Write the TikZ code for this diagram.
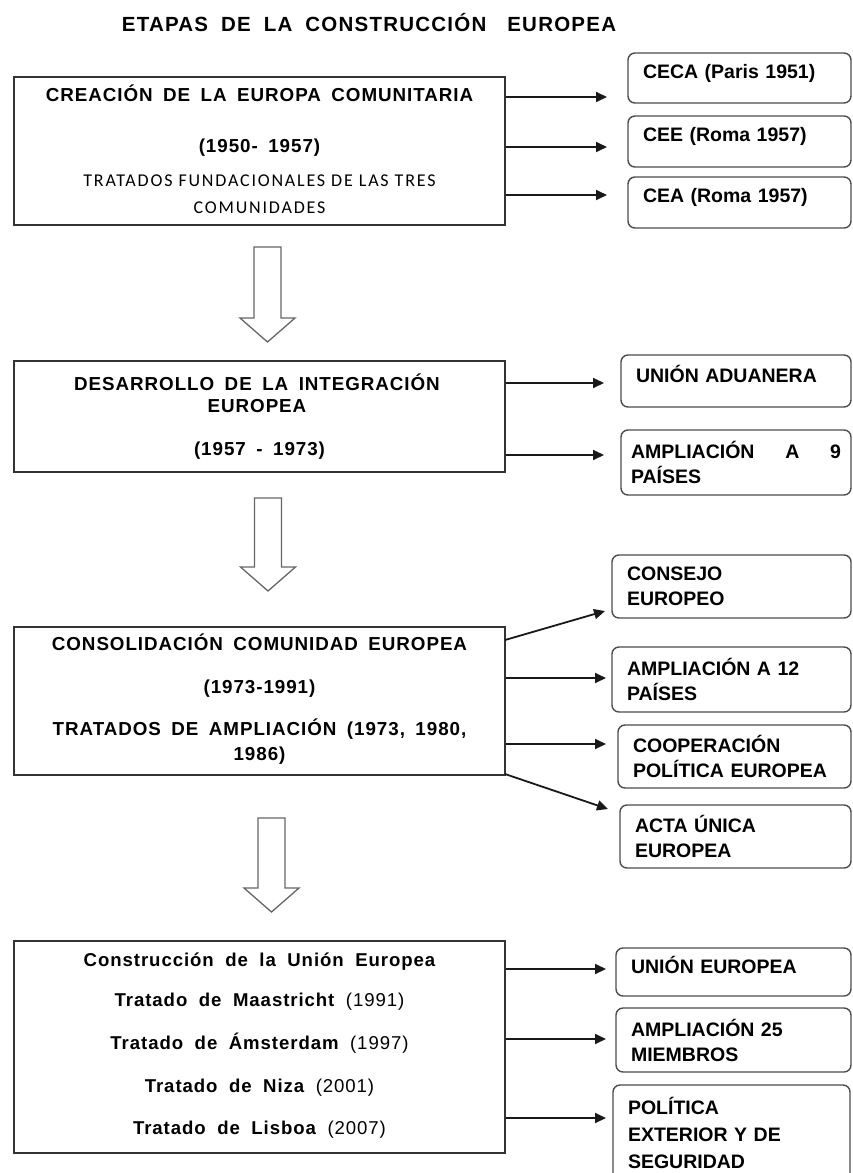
\documentclass[tikz,border=0pt]{standalone}
\usepackage{fontspec}
\setmainfont{Liberation Sans}
\newfontfamily\tfont[LetterSpace=6]{Liberation Sans}
\newfontfamily\hfont[LetterSpace=5]{Liberation Sans}
\newfontfamily\sfont[LetterSpace=10]{Carlito}
\usetikzlibrary{arrows.meta}
\newcommand\blkarrow[4]{% center x, top y, head base y, tip y
  \draw[blockarr] (#1-13.5,#2) -- (#1+13.5,#2) -- (#1+13.5,#3) -- (#1+27.5,#3)
    -- (#1,#4) -- (#1-27.5,#3) -- (#1-13.5,#3) -- cycle;}
\tikzset{
  mainbox/.style={draw=black!80, line width=1.8pt, minimum width=491pt, inner sep=0pt},
  mline/.style={anchor=base, inner sep=0pt,
    font=\hfont\bfseries\fontsize{18.8}{22}\selectfont,
    execute at begin node={\spaceskip=10.5pt\relax}},
  lline/.style={anchor=base, inner sep=0pt,
    font=\hfont\bfseries\fontsize{18.6}{22}\selectfont,
    execute at begin node={\spaceskip=11.5pt\relax}},
  smline/.style={anchor=base, inner sep=0pt,
    font=\sfont\fontsize{18}{21}\selectfont,
    execute at begin node={\spaceskip=6pt\relax}},
  sidebox/.style={draw=black!70, line width=1.4pt, rounded corners=7pt,
    inner xsep=15pt, inner ysep=0pt, align=left,
    font=\bfseries\fontsize{19.5}{25}\selectfont},
  oneline/.style={text depth=14pt},
  conn/.style={-{Triangle[length=11pt,width=10pt]}, line width=1.8pt, draw=black!90},
  blockarr/.style={draw=black!60, line width=1.3pt, fill=white, line join=miter},
}
\begin{document}
\begin{tikzpicture}[x=1pt,y=-1pt]
\clip (0,0) rectangle (853,1173);

% title
\node[anchor=base, inner sep=0pt,
  font=\tfont\bfseries\fontsize{20.5}{24}\selectfont,
  execute at begin node={\spaceskip=13pt\relax}]
  (title) at (369,31.3) {ETAPAS DE LA CONSTRUCCIÓN\hspace{8pt} EUROPEA};

% ---------- stage 1
\node[mainbox, minimum height=148pt] (b1) at (259.5,151) {};
\node[mline] (b1a) at (259.5,101.5) {CREACIÓN DE LA EUROPA COMUNITARIA};
\node[mline] (b1b) at (259.5,152) {(1950- 1957)};
\node[smline] (b1c) at (259.5,186.7) {TRATADOS FUNDACIONALES DE LAS TRES};
\node[smline] (b1d) at (259.5,213.3) {COMUNIDADES};

\node[sidebox, oneline, minimum width=223pt, text width=193pt, minimum height=50pt] (r1) at (739.5,78) {CECA (Paris 1951)};
\node[sidebox, oneline, minimum width=223pt, text width=193pt, minimum height=51pt] (r2) at (739.5,141.5) {CEE (Roma 1957)};
\node[sidebox, oneline, minimum width=223pt, text width=193pt, minimum height=51pt] (r3) at (739.5,202.5) {CEA (Roma 1957)};

\coordinate (e1) at (607,97);
\coordinate (e2) at (607,147);
\coordinate (e3) at (607,195);
\draw[conn] (b1.east |- e1) -- (e1);
\draw[conn] (b1.east |- e2) -- (e2);
\draw[conn] (b1.east |- e3) -- (e3);

\blkarrow{267.5}{247}{318}{342}

% ---------- stage 2
\node[mainbox, minimum height=111pt] (b2) at (259.5,416.5) {};
\node[mline] (b2a) at (257,390) {DESARROLLO DE LA INTEGRACIÓN};
\node[mline] (b2b) at (257,412) {EUROPEA};
\node[mline] (b2c) at (259.5,455.5) {(1957 - 1973)};

\node[sidebox, oneline, minimum width=230pt, text width=200pt, minimum height=52pt] (r4) at (736,381) {UNIÓN ADUANERA};
\node[sidebox, inner xsep=10pt, minimum width=230pt, text width=210pt, minimum height=65pt] (r5) at (736,462.5)
  {\makebox[210pt][s]{AMPLIACIÓN\hfill A\hfill 9}\\PAÍSES};

\coordinate (e4) at (604,383);
\coordinate (e5) at (604,455);
\draw[conn] (b2.east |- e4) -- (e4);
\draw[conn] (b2.east |- e5) -- (e5);

\blkarrow{268}{498}{567}{591}

% ---------- stage 3
\node[mainbox, minimum height=148pt] (b3) at (259.5,701) {};
\node[mline] (b3a) at (259.5,650.5) {CONSOLIDACIÓN COMUNIDAD EUROPEA};
\node[mline] (b3b) at (259.5,693.5) {(1973-1991)};
\node[mline] (b3c) at (259.5,735.5) {TRATADOS DE AMPLIACIÓN (1973, 1980,};
\node[mline] (b3d) at (259.5,760.5) {1986)};

\node[sidebox, minimum width=239pt, text width=209pt, minimum height=63pt] (r6) at (731.5,586.5) {CONSEJO\\EUROPEO};
\node[sidebox, minimum width=239pt, text width=209pt, minimum height=65pt] (r7) at (731.5,679.5) {AMPLIACIÓN A 12\\PAÍSES};
\node[sidebox, minimum width=233pt, text width=203pt, minimum height=63pt] (r8) at (734.5,756.5) {COOPERACIÓN\\POLÍTICA EUROPEA};
\node[sidebox, minimum width=231pt, text width=201pt, minimum height=63pt] (r9) at (735.5,836.5) {ACTA ÚNICA\\EUROPEA};

\coordinate (s6) at (505,640);
\coordinate (e6) at (605,611);
\coordinate (e7) at (606,678);
\coordinate (e8) at (606,744);
\coordinate (s9) at (505,774);
\coordinate (e9) at (608,809);
\draw[conn] (s6) -- (e6);
\draw[conn] (b3.east |- e7) -- (e7);
\draw[conn] (b3.east |- e8) -- (e8);
\draw[conn] (s9) -- (e9);

\blkarrow{271.5}{818}{888}{912}

% ---------- stage 4
\node[mainbox, minimum height=212pt] (b4) at (259.5,1047) {};
\node[lline] (b4a) at (259.5,966.7) {Construcción de la Unión Europea};
\node[lline] (b4b) at (259.5,1006.7) {Tratado de Maastricht {\mdseries(1991)}};
\node[lline] (b4c) at (259.5,1049.5) {Tratado de Ámsterdam {\mdseries(1997)}};
\node[lline] (b4d) at (259.5,1092) {Tratado de Niza {\mdseries(2001)}};
\node[lline] (b4e) at (259.5,1134) {Tratado de Lisboa {\mdseries(2007)}};

\node[sidebox, oneline, minimum width=235pt, text width=205pt, minimum height=48pt] (r10) at (733.5,972) {UNIÓN EUROPEA};
\node[sidebox, minimum width=235pt, text width=205pt, minimum height=64pt] (r11) at (733.5,1040) {AMPLIACIÓN 25\\MIEMBROS};
\node[sidebox, minimum width=237pt, text width=207pt, minimum height=96pt,
  font=\bfseries\fontsize{19.5}{27}\selectfont] (r12) at (731.5,1133) {POLÍTICA\\EXTERIOR Y DE\\SEGURIDAD};

\coordinate (e10) at (606,969);
\coordinate (e11) at (606,1039);
\coordinate (e12) at (606,1118);
\draw[conn] (b4.east |- e10) -- (e10);
\draw[conn] (b4.east |- e11) -- (e11);
\draw[conn] (b4.east |- e12) -- (e12);
\end{tikzpicture}
\end{document}
